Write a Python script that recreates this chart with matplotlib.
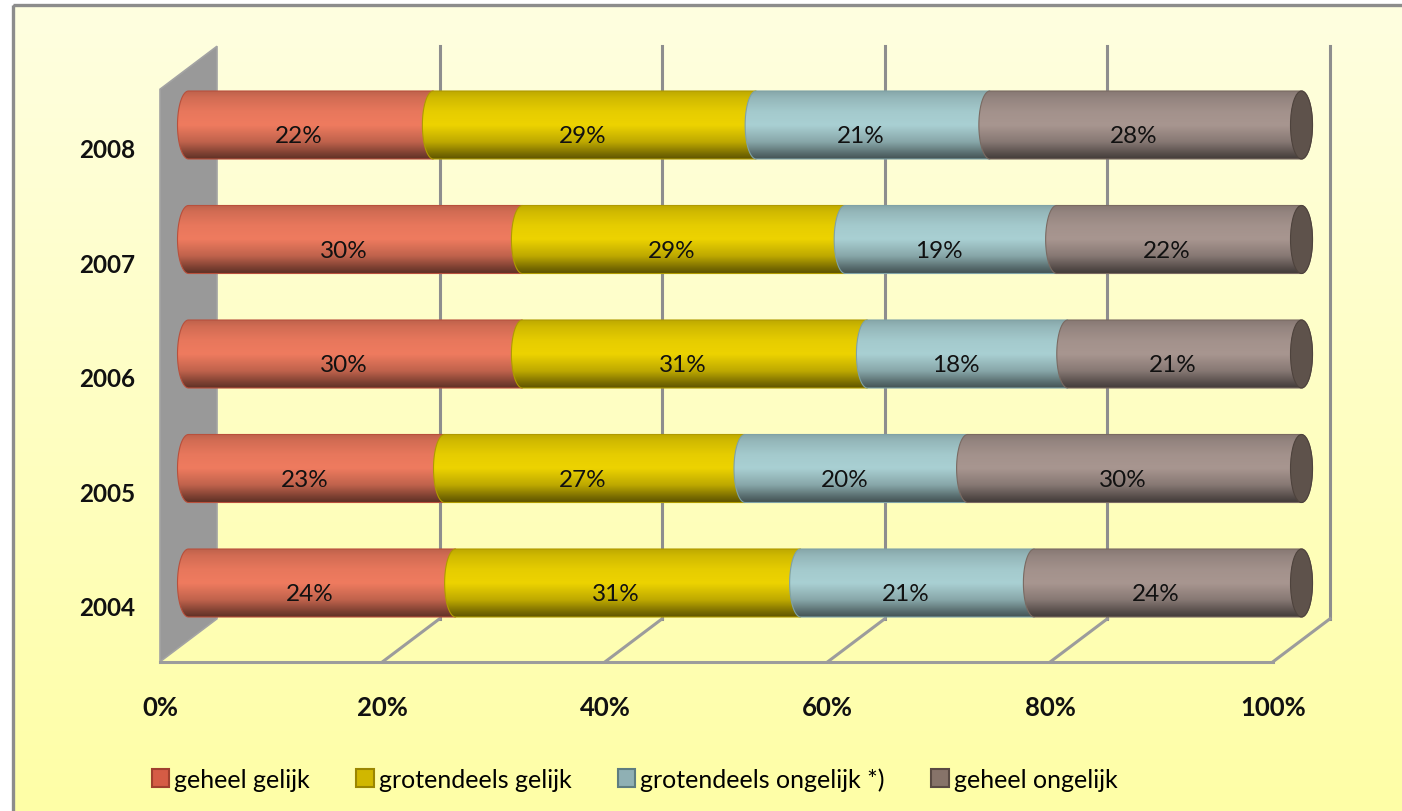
import numpy as np
import matplotlib
matplotlib.use("Agg")
import matplotlib.pyplot as plt
from matplotlib.path import Path
from matplotlib.patches import PathPatch, Polygon, Ellipse, Patch, Rectangle
from matplotlib.colors import to_rgb
from matplotlib.lines import Line2D

# ---------------- data ----------------
years = ["2004", "2005", "2006", "2007", "2008"]
geheel_gelijk = [24, 23, 30, 30, 22]
grotendeels_gelijk = [31, 27, 31, 29, 29]
grotendeels_ongelijk = [21, 20, 18, 19, 21]
geheel_ongelijk = [24, 30, 21, 22, 28]
series_names = ["geheel gelijk", "grotendeels gelijk", "grotendeels ongelijk *)", "geheel ongelijk"]
x_ticks = [0, 20, 40, 60, 80, 100]
x_tick_labels = ["0%", "20%", "40%", "60%", "80%", "100%"]

# ---------------- style ----------------
highlight = ["#EF7B5F", "#EDD300", "#A9D0D3", "#A89690"]
legend_face = ["#D55C45", "#D0B700", "#8FB0B4", "#877369"]
legend_edge = ["#A0402E", "#9A8600", "#5E7D80", "#5A4A43"]
edge_cols = ["#B8503C", "#B09A00", "#7FA2A6", "#7A6A62"]
cap_color = "#5E524B"
font = "Lato"

W, H, DPI = 1402, 812, 100
fig = plt.figure(figsize=(W / DPI, H / DPI), dpi=DPI)

# background gradient + border
bg = fig.add_axes([0, 0, 1, 1], zorder=-5)
bg.set_axis_off()
top = np.array(to_rgb("#FEFEE0"))
bot = np.array(to_rgb("#FFFFA6"))
tt = np.linspace(0, 1, 256)[:, None]
grad = (top * (1 - tt) + bot * tt)[:, None, :]
bg.imshow(grad, extent=[13, W + 5, H + 5, 6], aspect="auto", interpolation="bilinear")
bg.add_patch(Rectangle((13, 6), W, H, fill=False, edgecolor="#8C8C8C", linewidth=2.4))
bg.set_xlim(0, W)
bg.set_ylim(H, 0)

# main axes = mid-depth plane of the 3D box
left_px, right_px = 188.5, 1301.5
top_px, bot_px = 68.75, 641.25
ax = fig.add_axes([left_px / W, (H - bot_px) / H, (right_px - left_px) / W, (bot_px - top_px) / H])
ax.set_xlim(0, 100)
ax.set_ylim(-0.5, 4.5)
ax.set_axis_off()

pxx = (right_px - left_px) / 100.0
pxy = (bot_px - top_px) / 5.0
DX = 28.5 / pxx
DY = 21.5 / pxy
y0, y1 = -0.5, 4.5

# left wall
wall = Polygon([(-DX, y0 - DY), (DX, y0 + DY), (DX, y1 + DY), (-DX, y1 - DY)], closed=True,
               facecolor="#999999", edgecolor="#A3A3A3", linewidth=1.2, clip_on=False, zorder=1)
ax.add_patch(wall)

grid_col = "#8E8E8E"
for t in x_ticks[1:]:
    ax.add_line(Line2D([t + DX, t + DX], [y0 + DY, y1 + DY], color=grid_col, lw=2.2, clip_on=False, zorder=1))
    ax.add_line(Line2D([t - DX, t + DX], [y0 - DY, y0 + DY], color="#9C9C9C", lw=2.2, clip_on=False, zorder=1))
ax.add_line(Line2D([-DX, 100 - DX], [y0 - DY, y0 - DY], color="#9C9C9C", lw=2.2, clip_on=False, zorder=1))

# cylinders
r = 34.0 / pxy
a = 11.0 / pxx
prof_t = [0.0, 0.08, 0.25, 0.5, 0.7, 0.9, 1.0]
prof_f = [0.40, 0.52, 0.80, 1.0, 0.97, 0.88, 0.80]
tgrid = np.linspace(0, 1, 200)
fac = np.interp(tgrid, prof_t, prof_f)

data = [geheel_gelijk, grotendeels_gelijk, grotendeels_ongelijk, geheel_ongelijk]
theta_l = np.linspace(np.pi / 2, 3 * np.pi / 2, 40)
theta_r = np.linspace(-np.pi / 2, np.pi / 2, 40)

for i, yr in enumerate(years):
    c = i
    start = 0.0
    nseg = len(data)
    for j in range(nseg):
        v = data[j][i]
        xs, xe = start, start + v
        verts = [(xs + a * np.cos(th), c + r * np.sin(th)) for th in theta_l]
        if j == nseg - 1:
            verts += [(xe + a * np.cos(th), c + r * np.sin(th)) for th in theta_r]
        else:
            verts += [(xe, c - r), (xe, c + r)]
        verts.append(verts[0])
        codes = [Path.MOVETO] + [Path.LINETO] * (len(verts) - 2) + [Path.CLOSEPOLY]
        path = Path(verts, codes)
        z = 3 + j * 0.1
        patch = PathPatch(path, facecolor="none", edgecolor=edge_cols[j], linewidth=0.8, zorder=z + 0.05,
                          clip_on=False)
        ax.add_patch(patch)
        base = np.array(to_rgb(highlight[j]))
        img = np.clip(base[None, :] * fac[:, None], 0, 1)[:, None, :]
        im = ax.imshow(img, extent=[xs - a - 0.2, xe + a + 0.2, c - r, c + r], origin="lower",
                       aspect="auto", interpolation="bilinear", zorder=z)
        im.set_clip_box(fig.bbox)
        im.set_clip_path(patch)
        if j == nseg - 1:
            cap = Ellipse((xe, c), 2 * a, 2 * r, facecolor=cap_color, edgecolor="#4E433D",
                          linewidth=0.8, zorder=z + 0.08, clip_on=False)
            ax.add_patch(cap)
        ax.text((xs + xe) / 2 - 12.0 / pxx, c - 11.0 / pxy, f"{v}%", ha="center", va="center",
                fontsize=17.5, family=font, color="#111111", zorder=10)
        start = xe
    ax.text(-DX - 2.2, c - 25.0 / pxy, yr, ha="right", va="center", fontsize=17.5,
            fontweight="bold", family=font, color="#111111")

ax.set_xlim(0, 100)
ax.set_ylim(-0.5, 4.5)

for t, lab in zip(x_ticks, x_tick_labels):
    ax.text(t - DX, y0 - (708 - bot_px) / pxy, lab, ha="center", va="center", fontsize=18.5,
            fontweight="bold", family=font, color="#111111")

handles = [Patch(facecolor=legend_face[k], edgecolor=legend_edge[k], linewidth=1.5) for k in range(4)]
fig.legend(handles, series_names, loc="center", bbox_to_anchor=(634.5 / W, (H - 780) / H), ncol=4,
           frameon=False, prop={"family": font, "size": 18}, handlelength=0.7, handleheight=0.7,
           handletextpad=0.2, columnspacing=1.85)

fig.savefig("out.png", dpi=DPI)
